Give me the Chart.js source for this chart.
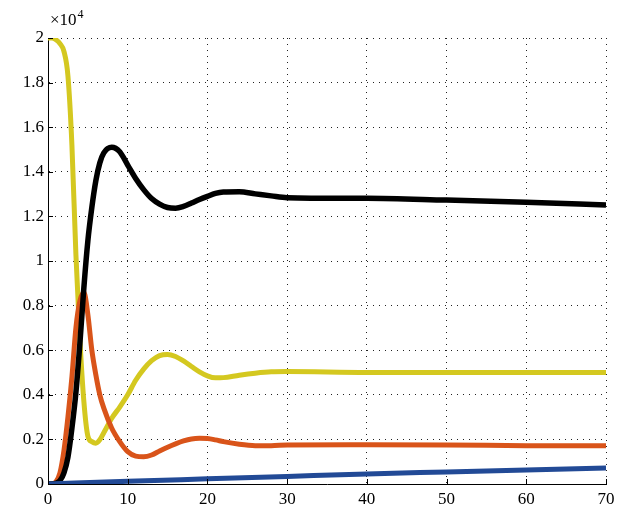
<!DOCTYPE html>
<html>
<head>
<meta charset="utf-8">
<script src="https://cdn.jsdelivr.net/npm/chart.js@4"></script>
<style>
  body { margin: 0; background: #fff; }
  #wrap { width: 625px; height: 512px; }
</style>
</head>
<body>
<div id="wrap"><canvas id="grafica" width="625" height="512"></canvas></div>
<script>
// time axis shared by the three epidemic curves
const tiempo = [0, 0.5, 1, 1.5, 2, 2.5, 3, 3.5, 4, 4.5, 5, 5.5, 6, 6.5, 7, 8, 9, 10, 11, 12, 13, 14, 15, 16, 17, 18, 19, 20, 21, 22, 24, 26, 28, 30, 40, 50, 60, 70];

const susceptibles = [20000, 20000, 19920, 19750, 19400, 18300, 15200, 10300, 6500, 3700, 2150, 1900, 1830, 1980, 2300, 2950, 3450, 4000, 4650, 5150, 5530, 5760, 5810, 5720, 5520, 5270, 5030, 4850, 4760, 4770, 4880, 4970, 5030, 5040, 5000, 5000, 5000, 5000];
const recuperados = [0, 0, 30, 150, 500, 1200, 2500, 4100, 6300, 8800, 10900, 12400, 13600, 14400, 14850, 15100, 14900, 14300, 13700, 13200, 12800, 12550, 12400, 12370, 12450, 12600, 12760, 12900, 13030, 13090, 13100, 13010, 12920, 12840, 12810, 12730, 12640, 12510];
const infectados = [0, 20, 100, 500, 1500, 3000, 4800, 7000, 8200, 8600, 7600, 6000, 4900, 4000, 3400, 2500, 1900, 1450, 1250, 1220, 1300, 1480, 1650, 1800, 1930, 2020, 2050, 2040, 1980, 1900, 1780, 1720, 1720, 1750, 1760, 1750, 1720, 1710];

// the slow blue line has its own samples
const tiempoMuertes = [0, 10, 20, 30, 40, 50, 60, 70];
const muertes = [0, 120, 230, 340, 450, 540, 630, 720];

const ticksX = [0, 10, 20, 30, 40, 50, 60, 70];
const ticksY = [0, 2000, 4000, 6000, 8000, 10000, 12000, 14000, 16000, 18000, 20000];

const puntos = (xs, ys) => xs.map((x, i) => ({ x: x, y: ys[i] }));

const serie = (label, xs, ys, color, ancho) => ({
    label: label,
    data: puntos(xs, ys),
    borderColor: color,
    backgroundColor: color,
    borderWidth: ancho,
    pointRadius: 0,
    showLine: true,
    fill: false,
    cubicInterpolationMode: 'monotone',
    clip: 0,
});

const fuente = { family: '"Liberation Serif", "Times New Roman", serif', size: 17 };

const decoracion = {
    id: 'decoracion',
    afterDraw(chart) {
        const { ctx, chartArea: a, scales: { x, y } } = chart;
        ctx.save();
        ctx.strokeStyle = '#000';
        ctx.lineWidth = 1;
        ctx.beginPath();
        ticksX.forEach(v => {
            const px = Math.round(x.getPixelForValue(v)) + 0.5;
            ctx.moveTo(px, a.bottom);
            ctx.lineTo(px, a.bottom - 5);
        });
        ticksY.forEach(v => {
            const py = Math.round(y.getPixelForValue(v)) + 0.5;
            ctx.moveTo(a.left, py);
            ctx.lineTo(a.left + 5, py);
        });
        ctx.stroke();

        ctx.fillStyle = '#000';
        ctx.textBaseline = 'alphabetic';
        ctx.font = '17px "Liberation Serif"';
        ctx.fillText('\u00d710', a.left + 2, a.top - 13);
        const w = ctx.measureText('\u00d710').width;
        ctx.font = '12px "Liberation Serif"';
        ctx.fillText('4', a.left + 3 + w, a.top - 20);
        ctx.restore();
    }
};

const ctx = document.getElementById('grafica').getContext('2d');

const grafica = new Chart(ctx, {
    type: 'scatter',
    data: {
        datasets: [
            serie('Muertes', tiempoMuertes, muertes, 'rgb(34, 74, 150)', 5),
            serie('Recuperados', tiempo, recuperados, 'rgb(0, 0, 0)', 5.5),
            serie('Infectados', tiempo, infectados, 'rgb(217, 84, 26)', 5),
            serie('Susceptibles', tiempo, susceptibles, 'rgb(212, 200, 32)', 5),
        ]
    },
    options: {
        responsive: false,
        animation: false,
        layout: { padding: { top: 38, right: 19, left: 0, bottom: 0 } },
        plugins: {
            legend: { display: false },
            tooltip: { enabled: false },
        },
        scales: {
            x: {
                type: 'linear',
                min: 0,
                max: 70,
                afterBuildTicks: s => { s.ticks = ticksX.map(v => ({ value: v })); },
                afterFit: s => { s.height = 28; },
                ticks: { color: '#000', font: fuente, padding: 5, maxRotation: 0 },
                grid: { color: '#222', lineWidth: 1, drawTicks: false },
                border: { display: true, color: '#000', width: 1, dash: [1, 5] },
            },
            y: {
                type: 'linear',
                min: 0,
                max: 20000,
                afterBuildTicks: s => { s.ticks = ticksY.map(v => ({ value: v })); },
                afterFit: s => { s.width = 48; },
                ticks: {
                    color: '#000',
                    font: fuente,
                    padding: 4,
                    callback: v => String(Number((v / 10000).toFixed(1))),
                },
                grid: { color: '#222', lineWidth: 1, drawTicks: false },
                border: { display: true, color: '#000', width: 1, dash: [1, 5] },
            }
        }
    },
    plugins: [decoracion]
});
</script>
</body>
</html>
